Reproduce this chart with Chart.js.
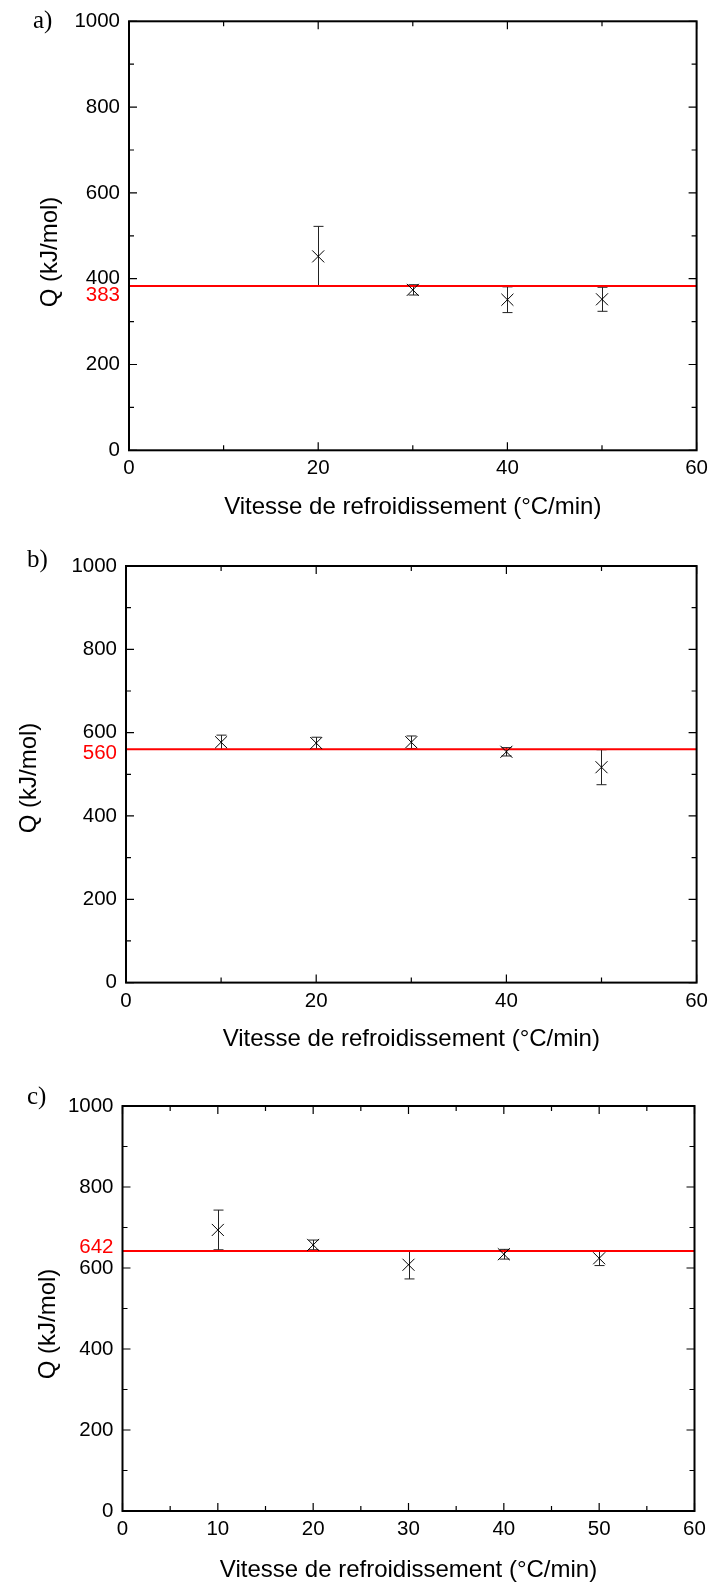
<!DOCTYPE html>
<html>
<head>
<meta charset="utf-8">
<script src="https://cdn.jsdelivr.net/npm/chart.js@4.4.0/dist/chart.umd.min.js"></script>
<style>
  html, body { margin: 0; padding: 0; background: #fff; }
  body { width: 714px; height: 1585px; position: relative; overflow: hidden; }
  canvas { position: absolute; left: 0; }
</style>
</head>
<body>
<canvas id="chartA" width="714" height="530" style="top:0"></canvas>
<canvas id="chartB" width="714" height="530" style="top:530px"></canvas>
<canvas id="chartC" width="714" height="525" style="top:1060px"></canvas>
<script>
// panel a)
const speedA = [20, 30, 40, 50];
const qA = [452, 374, 351, 352];
const errA = [70, 12, 30, 28];
const refA = 383;

// panel b)
const speedB = [10, 20, 30, 40, 50];
const qB = [577, 575, 577, 554, 517];
const errB = [17, 14, 15, 10, 42];
const refB = 560;

// panel c)
const speedC = [10, 20, 30, 40, 50];
const qC = [694, 657, 608, 634, 624];
const errC = [49, 12, 35, 12, 18];
const refC = 642;

// tick values
const yMajor = [0, 200, 400, 600, 800, 1000];
const yMinor = [100, 300, 500, 700, 900];
const xMajorAB = [0, 20, 40, 60];
const xMinorAB = [10, 30, 50];
const xMajorC = [0, 10, 20, 30, 40, 50, 60];
const xMinorC = [5, 15, 25, 35, 45, 55];

const xTitle = 'Vitesse de refroidissement (°C/min)';
const yTitle = 'Q (kJ/mol)';
const sans = '"Liberation Sans", Arial, sans-serif';
const serif = '"Liberation Serif", "Times New Roman", serif';
const tickSize = 20.5;

function figurePlugin(p) {
  return {
    id: 'figure',
    beforeDatasetsDraw(chart) {
      const ctx = chart.ctx;
      const xs = chart.scales.x, ys = chart.scales.y;
      ctx.save();
      ctx.strokeStyle = '#222';
      ctx.lineWidth = 1;
      p.speeds.forEach((s, i) => {
        const px = Math.round(xs.getPixelForValue(s)) + 0.5;
        const top = ys.getPixelForValue(p.q[i] + p.err[i]);
        const bot = ys.getPixelForValue(p.q[i] - p.err[i]);
        ctx.beginPath();
        ctx.moveTo(px, top); ctx.lineTo(px, bot);
        ctx.moveTo(px - 5, top); ctx.lineTo(px + 5, top);
        ctx.moveTo(px - 5, bot); ctx.lineTo(px + 5, bot);
        ctx.stroke();
      });
      ctx.restore();
    },
    afterDraw(chart) {
      const ctx = chart.ctx;
      const a = chart.chartArea;
      const xs = chart.scales.x, ys = chart.scales.y;
      ctx.save();
      // ticks on all four sides, pointing inward
      ctx.strokeStyle = '#000';
      ctx.lineWidth = 1.2;
      const tick = (vals, len, horiz) => {
        vals.forEach(v => {
          ctx.beginPath();
          if (horiz) {
            const px = xs.getPixelForValue(v);
            ctx.moveTo(px, a.bottom); ctx.lineTo(px, a.bottom - len);
            ctx.moveTo(px, a.top); ctx.lineTo(px, a.top + len);
          } else {
            const py = ys.getPixelForValue(v);
            ctx.moveTo(a.left, py); ctx.lineTo(a.left + len, py);
            ctx.moveTo(a.right, py); ctx.lineTo(a.right - len, py);
          }
          ctx.stroke();
        });
      };
      tick(p.xMajor, 8, true);
      tick(p.xMinor, 5, true);
      tick(yMajor, 8, false);
      tick(yMinor, 5, false);
      // frame
      ctx.lineWidth = 2;
      ctx.strokeRect(a.left, a.top, a.right - a.left, a.bottom - a.top);
      // reference value label
      ctx.fillStyle = '#ff0000';
      ctx.font = tickSize + 'px ' + sans;
      ctx.textAlign = 'right';
      ctx.textBaseline = 'middle';
      ctx.fillText(String(p.ref), a.left - 9, ys.getPixelForValue(p.ref) + p.refOff);
      // panel letter
      ctx.fillStyle = '#000';
      ctx.font = '25px ' + serif;
      ctx.textAlign = 'left';
      ctx.fillText(p.panel, p.panelX, p.panelY);
      // y axis title
      ctx.translate(p.titleX, p.titleY);
      ctx.rotate(-Math.PI / 2);
      ctx.font = '24px ' + sans;
      ctx.textAlign = 'center';
      ctx.fillText(yTitle, 0, 0);
      ctx.restore();
    }
  };
}

function makeChart(id, p) {
  return new Chart(document.getElementById(id), {
    type: 'scatter',
    data: {
      datasets: [
        {
          data: p.speeds.map((s, i) => ({ x: s, y: p.q[i] })),
          pointStyle: 'crossRot',
          pointRadius: 8.5,
          pointBorderColor: '#000',
          pointBackgroundColor: '#000',
          pointBorderWidth: 1,
          showLine: false,
          order: 1
        },
        {
          type: 'line',
          data: [{ x: 0, y: p.ref }, { x: 60, y: p.ref }],
          borderColor: '#ff0000',
          borderWidth: 2,
          pointRadius: 0,
          order: 2
        }
      ]
    },
    options: {
      responsive: false,
      animation: false,
      devicePixelRatio: 1,
      layout: { padding: p.pad },
      plugins: { legend: { display: false }, tooltip: { enabled: false } },
      scales: {
        x: {
          type: 'linear', min: 0, max: 60,
          afterFit: s => { s.height = p.xH; },
          grid: { display: false, drawTicks: false },
          border: { display: false },
          ticks: { stepSize: p.xStep, padding: 6, color: '#000', maxRotation: 0, autoSkip: false,
                   font: { family: sans, size: tickSize }, callback: v => String(v) },
          title: { display: true, text: xTitle, color: '#000',
                   font: { family: sans, size: 24 }, padding: { top: 0, bottom: p.titlePad } }
        },
        y: {
          type: 'linear', min: 0, max: 1000,
          afterFit: s => { s.width = p.yW; },
          grid: { display: false, drawTicks: false },
          border: { display: false },
          ticks: { stepSize: 200, padding: 9, color: '#000',
                   font: { family: sans, size: tickSize }, callback: v => String(v) }
        }
      }
    },
    plugins: [figurePlugin(p)]
  });
}

makeChart('chartA', {
  speeds: speedA, q: qA, err: errA, ref: refA, refOff: 9,
  xMajor: xMajorAB, xMinor: xMinorAB, xStep: 20,
  pad: { left: 0, top: 20.3, right: 17, bottom: 0 }, yW: 129, xH: 79.7, titlePad: 8.6,
  panel: 'a)', panelX: 33, panelY: 21, titleX: 50, titleY: 252
});

makeChart('chartB', {
  speeds: speedB, q: qB, err: errB, ref: refB, refOff: 4,
  xMajor: xMajorAB, xMinor: xMinorAB, xStep: 20,
  pad: { left: 0, top: 36, right: 14, bottom: 0 }, yW: 126, xH: 77.4, titlePad: 6.6,
  panel: 'b)', panelX: 27, panelY: 30, titleX: 29, titleY: 248
});

makeChart('chartC', {
  speeds: speedC, q: qC, err: errC, ref: refC, refOff: -4,
  xMajor: xMajorC, xMinor: xMinorC, xStep: 10,
  pad: { left: 0, top: 46, right: 19.5, bottom: 0 }, yW: 122.5, xH: 74, titlePad: 0.6,
  panel: 'c)', panelX: 27, panelY: 37.5, titleX: 48, titleY: 264
});
</script>
</body>
</html>
